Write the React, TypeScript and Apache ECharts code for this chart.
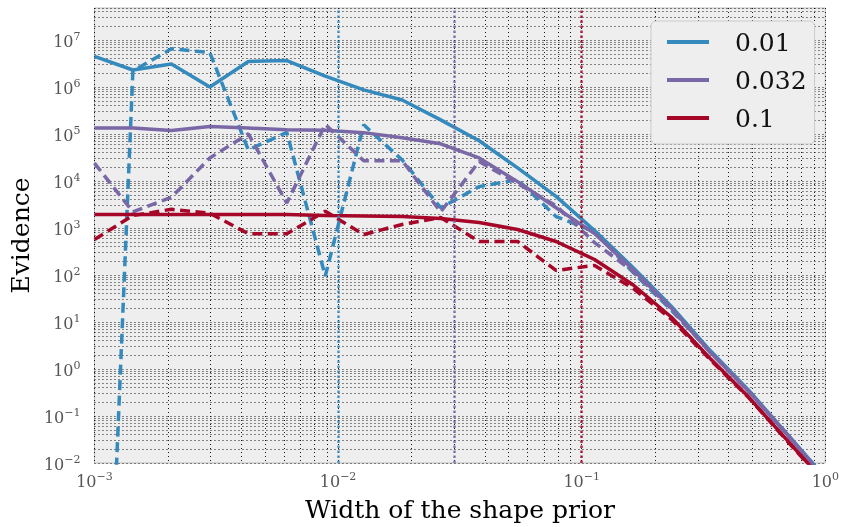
import React, { useEffect, useRef } from 'react';
import * as echarts from 'echarts';

// Width of the shape prior (x samples, log-spaced)
const widthPrior = [0.001, 0.001438, 0.002069, 0.002976, 0.004281, 0.006158, 0.008859, 0.012743, 0.01833, 0.026367, 0.037927, 0.054556, 0.078476, 0.112884, 0.162378, 0.233572, 0.335982, 0.483293, 0.695193, 1.0];

// legend labels and true widths (vertical dotted markers)
const legendLabels = ['0.01', '0.032', '0.1'];
const trueWidths = [0.01, 0.032, 0.1];

// Evidence, solid curves
const evidenceSolid001 = [4.5e6, 2.3e6, 3.1e6, 1.0e6, 3.5e6, 3.65e6, 1.7e6, 8.7e5, 5.3e5, 2.0e5, 7.2e4, 1.9e4, 4.7e3, 885, 145, 21.5, 2.5, 0.36, 0.042, 0.0049];
const evidenceSolid0032 = [1.34e5, 1.34e5, 1.19e5, 1.45e5, 1.34e5, 1.23e5, 1.2e5, 1.07e5, 8.3e4, 6.2e4, 3.1e4, 9.7e3, 2.7e3, 764, 131, 19.5, 2.3, 0.34, 0.041, 0.0046];
const evidenceSolid01 = [1.94e3, 1.94e3, 1.94e3, 1.94e3, 1.94e3, 1.94e3, 1.84e3, 1.8e3, 1.76e3, 1.59e3, 1.31e3, 930, 517, 214, 62, 12.6, 1.7, 0.256, 0.031, 0.0038];

// Evidence, dashed curves
const evidenceDashed001 = [5e-14, 2.2e6, 6.5e6, 5.4e6, 4.6e4, 1.08e5, 95, 1.57e5, 2.8e4, 2.7e3, 7.6e3, 1.07e4, 1.75e3, 843, 114, 17.7, 2.4, 0.34, 0.041, 0.0048];
const evidenceDashed0032 = [2.4e4, 2.2e3, 4.5e3, 3.1e4, 1.01e5, 3.4e3, 1.6e5, 2.7e4, 2.7e4, 2.2e3, 2.6e4, 8.8e3, 3.0e3, 490, 119, 19, 2.3, 0.34, 0.041, 0.0047];
const evidenceDashed01 = [570, 1.84e3, 2.5e3, 2.06e3, 753, 753, 2.27e3, 728, 1.19e3, 1.67e3, 517, 517, 125, 160, 52, 11.4, 1.6, 0.25, 0.03, 0.0037];

// axis limits
const xLimits = [0.001, 1];
const yLimits = [0.01, 4.8e7];

const palette = ['#348ABD', '#7A68A6', '#A60628'];
const FONT = 'DejaVu Serif';

const solidSets = [evidenceSolid001, evidenceSolid0032, evidenceSolid01];
const dashedSets = [evidenceDashed001, evidenceDashed0032, evidenceDashed01];

const powLabel = (v: number) => {
  const e = Math.round(Math.log10(v));
  if (Math.abs(v / Math.pow(10, e) - 1) > 1e-6) return '';
  const exp = e < 0 ? '\u2212' + Math.abs(e) : String(e);
  return `{b|10}{s|${exp}}`;
};

const richLabel = {
  b: { fontFamily: FONT, fontSize: 16, color: '#555555', lineHeight: 18, verticalAlign: 'bottom' },
  s: { fontFamily: FONT, fontSize: 11, color: '#555555', lineHeight: 11, verticalAlign: 'top' },
};

const gridLine = { color: '#000000', type: [1, 3], width: 1, opacity: 0.9 };

export default function App() {
  const ref = useRef<HTMLDivElement>(null);
  useEffect(() => {
    if (!ref.current) return;
    const chart = echarts.init(ref.current, null, { renderer: 'svg' });
    const series: any[] = [];
    solidSets.forEach((vals, k) => {
      series.push({
        name: legendLabels[k],
        type: 'line',
        data: widthPrior.map((x, i) => [x, vals[i]]),
        showSymbol: false,
        color: palette[k],
        lineStyle: { color: palette[k], width: 3.5 },
        z: 4,
        markLine: {
          silent: true,
          symbol: 'none',
          label: { show: false },
          lineStyle: { color: palette[k], type: [2.5, 2.5], width: 2.5, opacity: 0.85 },
          data: [{ xAxis: trueWidths[k] }],
        },
      });
    });
    dashedSets.forEach((vals, k) => {
      series.push({
        name: legendLabels[k] + ' (dashed)',
        type: 'line',
        data: widthPrior.map((x, i) => [x, vals[i]]),
        showSymbol: false,
        color: palette[k],
        lineStyle: { color: palette[k], width: 3.5, type: [10, 5.5] },
        z: 3,
      });
    });

    chart.setOption({
      animation: false,
      grid: {
        left: 90, top: 8, width: 739, height: 456,
        show: true, backgroundColor: '#eeeeee', borderColor: '#bcbcbc', borderWidth: 1,
      },
      legend: {
        data: legendLabels,
        orient: 'vertical',
        left: 651, top: 21,
        icon: 'rect',
        itemWidth: 42, itemHeight: 4,
        itemGap: 8,
        padding: [6, 8, 11, 16],
        backgroundColor: '#eeeeee',
        borderColor: '#cccccc', borderWidth: 1, borderRadius: 5,
        textStyle: { fontFamily: FONT, fontSize: 25, color: '#111111', lineHeight: 30, padding: [0, 0, 0, 21] },
      },
      xAxis: {
        type: 'log', logBase: 10, min: xLimits[0], max: xLimits[1], splitNumber: 5,
        name: 'Width of the shape prior', nameLocation: 'middle', nameGap: 34,
        nameTextStyle: { fontFamily: FONT, fontSize: 25, color: '#000000' },
        axisLine: { show: false }, axisTick: { show: false },
        axisLabel: { formatter: powLabel, rich: richLabel, margin: 8, showMinLabel: true, showMaxLabel: true },
        splitLine: { show: true, lineStyle: gridLine },
        minorTick: { show: false, splitNumber: 9 },
        minorSplitLine: { show: true, lineStyle: gridLine },
      },
      yAxis: {
        type: 'log', logBase: 10, min: yLimits[0], max: yLimits[1], splitNumber: 10,
        name: 'Evidence', nameLocation: 'middle', nameGap: 50, nameRotate: 90,
        nameTextStyle: { fontFamily: FONT, fontSize: 25, color: '#000000' },
        axisLine: { show: false }, axisTick: { show: false },
        axisLabel: { formatter: powLabel, rich: richLabel, margin: 14 },
        splitLine: { show: true, lineStyle: gridLine },
        minorTick: { show: false, splitNumber: 9 },
        minorSplitLine: { show: true, lineStyle: gridLine },
      },
      series,
    });
    return () => chart.dispose();
  }, []);
  return <div ref={ref} style={{ position: 'fixed', left: 0, top: 0, width: 842, height: 527 }} />;
}
